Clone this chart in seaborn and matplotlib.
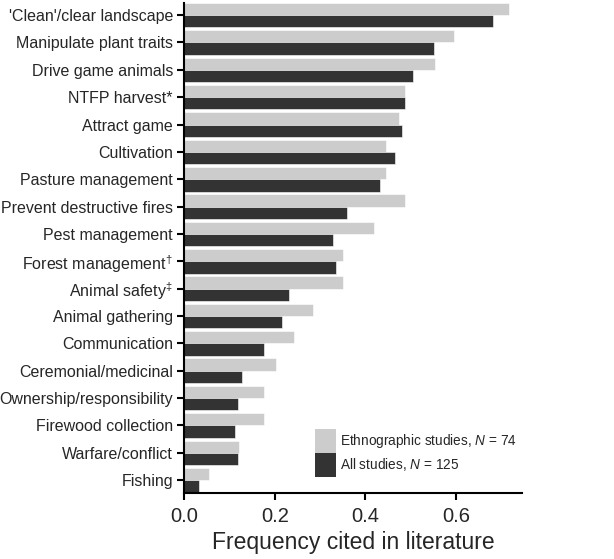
import matplotlib
matplotlib.use('Agg')
import matplotlib.pyplot as plt
import seaborn as sns
import pandas as pd
from matplotlib.patches import Patch

categories = [
    "'Clean'/clear landscape",
    'Manipulate plant traits',
    'Drive game animals',
    'NTFP harvest*',
    'Attract game',
    'Cultivation',
    'Pasture management',
    'Prevent destructive fires',
    'Pest management',
    r'Forest management$^{\dagger}$',
    r'Animal safety$^{\ddagger}$',
    'Animal gathering',
    'Communication',
    'Ceremonial/medicinal',
    'Ownership/responsibility',
    'Firewood collection',
    'Warfare/conflict',
    'Fishing',
]
ethnographic = [0.716, 0.595, 0.554, 0.486, 0.473, 0.446, 0.446, 0.486, 0.419,
                0.351, 0.351, 0.284, 0.243, 0.203, 0.176, 0.176, 0.122, 0.054]
all_studies = [0.680, 0.552, 0.504, 0.488, 0.480, 0.464, 0.432, 0.360, 0.328,
               0.336, 0.232, 0.216, 0.176, 0.128, 0.120, 0.112, 0.120, 0.032]
series = ['Ethnographic studies', 'All studies']
legend_labels = ['Ethnographic studies, $N$ = 74', 'All studies, $N$ = 125']
colors = ['#cccccc', '#333333']

df = pd.DataFrame({
    'category': categories * 2,
    'freq': ethnographic + all_studies,
    'group': [series[0]] * len(categories) + [series[1]] * len(categories),
})

family = 'Liberation Sans'
sns.set_style('ticks')
plt.rcParams['font.family'] = [family, 'DejaVu Sans']
plt.rcParams['mathtext.fontset'] = 'custom'
plt.rcParams['mathtext.rm'] = family
plt.rcParams['mathtext.it'] = family + ':italic'

fig = plt.figure(figsize=(6.14, 5.59), dpi=100)
ax = fig.add_axes([0.2997, 0.118, 0.5505, 0.877])
sns.barplot(data=df, x='freq', y='category', hue='group', hue_order=series,
            palette=colors, orient='h', width=0.9, ax=ax,
            edgecolor='white', linewidth=0.4, legend=False)

ax.set_xlim(0, 0.745)
ax.set_ylim(len(categories) - 0.53, -0.45)
ax.set_xticks([0.0, 0.2, 0.4, 0.6])
ax.set_xticklabels(['0.0', '0.2', '0.4', '0.6'])
ax.set_ylabel('')
ax.set_xlabel('Frequency cited in literature', fontsize=16.5, labelpad=4)
ax.tick_params(axis='both', which='major', width=1.5, length=5, color='black', pad=3)
ax.tick_params(axis='y', labelsize=11.5)
ax.tick_params(axis='x', labelsize=14.5, pad=5)
for side in ['top', 'right']:
    ax.spines[side].set_visible(False)
for side in ['left', 'bottom']:
    ax.spines[side].set_linewidth(1.5)
    ax.spines[side].set_color('black')

handles = [Patch(facecolor=c, edgecolor='none') for c in colors]
ax.legend(handles, legend_labels, loc='lower right', bbox_to_anchor=(0.985, 0.033),
          frameon=False, fontsize=9.8, handlelength=1.55, handleheight=2.35,
          labelspacing=0.0, handletextpad=0.3, borderaxespad=0, borderpad=0)

fig.savefig('out.png', dpi=100)
